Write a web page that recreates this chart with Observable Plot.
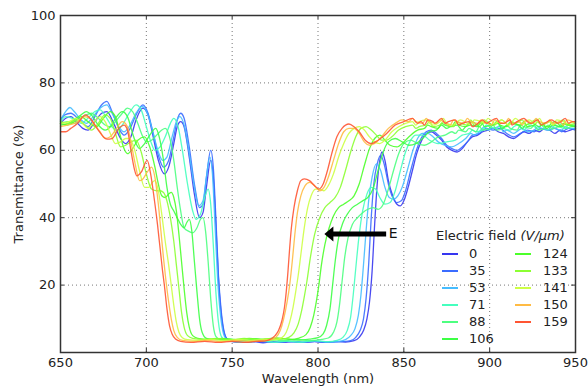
<!DOCTYPE html>
<html><head><meta charset="utf-8">
<script src="https://cdn.jsdelivr.net/npm/d3@7"></script>
<script src="https://cdn.jsdelivr.net/npm/@observablehq/plot@0.6"></script>
<style>
body{margin:0;background:#fff;font-family:"DejaVu Sans",sans-serif;}
#wrap{position:relative;width:588px;height:387px;overflow:hidden;}
.lg{position:absolute;font-family:"DejaVu Sans",sans-serif;font-size:13px;color:#222;line-height:16px;white-space:nowrap;}
.sw{position:absolute;height:2px;width:16px;}
</style></head><body><div id="wrap"></div>
<script>
// ---------- data ----------
const fields = [0, 35, 53, 71, 88, 106, 124, 133, 141, 150, 159];
const xTicks = [650, 700, 750, 800, 850, 900, 950];
const yTicks = [20, 40, 60, 80, 100];

const s0 = [[650,68],[653,69.5],[656,70],[660,68],[663,66.5],[666,66],[670,68.5],[674,71],[677,71.5],[681,68],[685,63.5],[688,62],[691,64],[694,69],[698,72.5],[701,70.5],[704,64],[707,57],[710.5,53],[713,55],[716,62],[718,67],[720,68.5],[722,67],[725,58],[728,47],[731,40],[733,41.5],[735,49],[737.5,57],[739,52],[740.5,38],[742,22],[743.5,12],[745,6.5],[747,4],[750,3.2],[756,3],[762,3.3],[768,2.9],[774,3.2],[780,3],[786,3.3],[792,3],[798,3.2],[804,3],[810,3.3],[816,3.1],[821,3.5],[824,4.5],[826.5,6.5],[828.5,10],[830,15],[831.5,24],[833,38],[834.5,50],[836,57],[837.3,59.5],[839,57],[841,51],[843.5,46.5],[846,44],[848,43.5],[850,45],[852.5,49],[855,54],[857.5,59],[860,62.5],[863,65],[866,65.5],[869,64.5],[872,63],[875,61],[878,60],[881,59.5],[884,60.5],[887,62.5],[890,64],[893,64.5],[896,65.5],[899,66],[902,66.5],[905,65.5],[908,65],[911,64],[914,63.5],[917,64.5],[920,65.5],[923,65],[926,66],[929,65.5],[932,66.5],[935,66],[938,65],[941,66],[944,65.5],[947,66],[950,66.5]];
const s35 = [[650,69],[652.5,70.5],[656,71],[660,69.5],[663,68],[666,67],[670,70],[674,73.5],[677,74.5],[680,71.5],[684,66.5],[687,64.5],[690,66],[694,70.5],[698,73.5],[701,71],[704,65],[707,58.5],[710,55],[713,57],[716,64],[718,69],[720,71],[722,69.5],[725,61],[728,50],[731,43],[733,44],[735,52],[737.5,60],[739,55],[740.5,40],[742,23],[743.5,13],[745,7],[747,4],[750,3.3],[758,3],[766,3.3],[774,3],[782,3.2],[790,3],[798,3.3],[806,3],[814,3.2],[819,3.5],[822,4.5],[824.5,6.5],[826.5,10],[828,16],[829.5,26],[831,40],[832.5,50],[834.5,56],[836.5,58.5],[838.5,56],[841,50],[843.5,46],[846,44.5],[848.5,45],[851,48],[854,54],[857,59.5],[860,63.5],[863,65.5],[866,66],[869,65],[872,63.5],[875,61.5],[878,60.5],[881,60],[884,61],[887,62.5],[890,64.5],[894,65],[898,66.5],[902,66],[906,66.5],[910,65],[914,64],[918,65],[922,66],[926,65.5],[930,66.5],[934,66],[938,66.5],[942,65.5],[946,66.5],[950,66]];
const s53 = [[650,69],[653,71.5],[655.5,72.7],[658,71.5],[662,69],[665,68],[669,70],[673,72.5],[677,73.5],[680,71],[684,67],[687,65.5],[690,67],[694,71],[697.5,73],[701,70.5],[704,65],[707,59.5],[709.5,57],[712,58],[715,64],[717.5,68.5],[719.5,70],[722,67.5],[725,59],[728,49],[730.5,43.5],[733,45],[735,52],[737,58],[738.5,53],[740,38],[741.5,22],[743,12],[744.5,6.5],[746.5,4],[750,3.3],[758,3.1],[766,3.4],[774,3],[782,3.3],[790,3.1],[798,3.4],[806,3.1],[812,3.3],[816,3.8],[819,5],[821.5,7],[823.5,11],[825,17],[826.5,26],[828,36],[829.5,45],[831.5,52],[834,56],[836.5,54],[839,49],[841.5,46],[844,45.5],[846.5,46.5],[849,49],[852,54],[855,59.5],[858,63.5],[861,65],[864,65],[867,64],[870,62.5],[874,61.5],[878,61],[882,62],[886,63.5],[889,65],[891,64.5],[894,65.5],[897,67],[899,66],[902,66.5],[906,67],[908,65.5],[910,66],[914,65],[917,66],[919,66.5],[922,65.5],[926,66],[928,67],[930,66.5],[934,66],[936,67],[938,66.5],[942,66],[944,67],[946,66.5],[950,66.5]];
const s71 = [[650,68.5],[653,70],[657,69.5],[662,68],[666,69.5],[670,71.5],[673,72],[677,69.5],[680,67],[683,66],[686,67.5],[690,71],[694,73.5],[697,72],[700,67],[703,62],[705,60],[708,61],[711,64],[714,68],[716,69.5],[718.5,67],[721,60],[724,50],[727,42],[729,39.5],[731.5,41],[734,46],[736,48.5],[737.5,44],[739,32],[740.5,18],[742,9],[743.5,5],[746,3.6],[750,3.3],[758,3.1],[766,3.5],[774,3.1],[782,3.4],[790,3.1],[798,3.5],[806,3.2],[811,3.6],[814.5,4.5],[817,6.5],[819,10.5],[820.5,17],[822,25],[824,35],[826,42],[828.5,47],[831,49],[833.5,48.5],[836,46],[839,44],[842,44.5],[845,48],[848,54],[851,59.5],[854,63],[857,64.5],[861,64.5],[865,63],[870,62],[875,62.5],[880,63],[884,64.5],[888,65],[890,66],[892,65.5],[896,66],[898,67.5],[900,67],[904,66.5],[906,67.5],[908,66.5],[912,66],[914,67],[916,67.5],[920,66],[922,67],[924,67.5],[928,66.5],[930,67.5],[932,66.5],[936,66],[938,67.5],[940,67],[944,66.5],[946,67.5],[950,67]];
const s88 = [[650,68],[654,68.5],[658,68],[662,69.5],[665,70.5],[668,71],[672,69.5],[676,67.5],[679,67],[682,68.5],[686,71],[689,72.5],[692,71.5],[695,68],[698,64],[700,62.5],[703,63],[706,64.5],[709,66],[711,66.5],[713.5,64],[716,57],[718,49],[720,42],[722,37],[724.5,36],[727,35.5],[729.5,37],[731.5,39.5],[733,40],[734.5,36],[736,27],[737.5,16],[739,8],[740.5,4.8],[743,3.8],[748,3.5],[756,3.8],[764,3.4],[772,3.8],[780,3.5],[788,3.9],[796,3.5],[802,3.9],[806,4.3],[809,6],[811,9],[812.5,14],[814,21],[815.5,28],[817.5,34],[820,38],[823,40],[826,41.5],[829,42.5],[832,43],[835,42.5],[838,44],[841,48.5],[844,54],[847,59],[850,62],[854,63],[858,62],[862,61.5],[866,62.5],[870,64],[874,64.5],[878,65.5],[880,65],[882,66],[886,65.5],[888,66.5],[892,65.5],[894,67],[896,66],[900,66.5],[902,67.5],[904,66],[908,66.5],[910,67.5],[912,66.5],[916,66],[918,67.5],[920,67],[924,66.5],[926,67.5],[928,66],[932,66.5],[934,67.5],[936,66.5],[940,67],[942,68],[944,66.5],[948,67],[950,67]];
const s106 = [[650,67.5],[655,68],[659,69.5],[662,70.5],[665,71.5],[668,70.5],[672,67.5],[676,66],[679,67],[682,69.5],[686,71.5],[689,70],[692,65],[694,62],[696,60.5],[699,62],[702,64.5],[705.5,66.5],[707.5,64],[710,57],[712,49],[714,44],[716,42],[718,40],[720,38],[722,37],[723.5,38.5],[725,39.5],[726.5,36],[728,27],[729.5,18],[731,10],[732.5,6],[735,4.2],[740,3.8],[748,4],[756,3.6],[764,4],[772,3.7],[780,4.1],[788,3.7],[795,4],[800,4.4],[803,5.5],[805,8],[807,13],[808.5,20],[810,27],[812,34],[814.5,38.5],[817,41],[820,43],[823,44],[826,45],[829,46],[832,48.5],[835,54],[838,59.5],[841,62.5],[845,63.5],[849,62.5],[853,61.5],[857,62],[861,63.5],[865,65.5],[869,66],[872,67.5],[875,66.5],[877,67],[881,67.5],[884,66],[886,67],[889,67.5],[893,67],[895,68.5],[897,67],[901,67.5],[905,68],[907,66.5],[909,67],[913,68],[917,67.5],[919,66.5],[921,67.5],[925,68],[929,67],[931,68],[933,66.5],[937,67.5],[941,67],[943,68],[945,67.5],[950,67.5]];
const s124 = [[650,68],[654,67.5],[658,68.5],[662,70],[666,68.5],[671,67],[675,69.5],[679,71.5],[682,70],[685,64],[687,60.5],[689,59],[692,60.5],[695,63],[699,64],[702,61],[705,55],[707,50],[709,46.5],[711,46],[713,47],[714.5,47.5],[716,46],[717.5,42],[719,35],[720.5,27],[722,19],[723.5,12],[725,7.5],[727,5],[730,4.2],[736,3.9],[744,4.2],[752,3.8],[760,4.2],[768,3.9],[776,4.3],[784,3.9],[789,4.3],[793,5.3],[795.5,7.5],[797.5,11],[799,15],[800.5,20],[802,26],[804,32],[806.5,37],[809,40.5],[812,43],[815,44],[818,45],[821,46.5],[824,50],[827,55.5],[830,60.5],[833,63.5],[836,64.5],[839,63],[842,61.5],[846,61],[850,62.5],[854,64.5],[858,66],[862,66.5],[864,67.5],[866,67],[870,66.5],[872,68],[874,67.5],[878,67],[880,68.5],[882,67.5],[886,67],[888,68],[890,68.5],[894,67],[896,68],[898,68.5],[902,67.5],[904,68.5],[906,67.5],[910,67],[912,68.5],[914,68],[918,67.5],[920,68.5],[922,67],[926,67.5],[928,68.5],[930,67.5],[934,67],[936,68],[938,68.5],[942,67],[944,68],[946,67.5],[950,67]];
const s133 = [[650,68.5],[654,68],[657,68.5],[660,69],[664,67.5],[668,66],[672,68],[676,70.5],[679,69.5],[682,65],[685,61],[688,61.5],[691,62.5],[694,63],[697,59.5],[700,53],[703,48.5],[706,48],[708,48],[710,47.5],[712,45],[714,40],[716,33],[717.5,26],[719,19],[720.5,12],[722,7.5],[724,5],[727,4.2],[733,3.9],[741,4.2],[749,3.8],[757,4.2],[765,3.9],[773,4.2],[779,4],[783,4.5],[786,5.8],[788.5,8.5],[790.5,12.5],[792,16.5],[793.5,21],[795.5,28],[798,35],[801,40],[804,43],[807,44.5],[810,46],[813,49],[816,54],[819,59.5],[822,64],[825,66.5],[828,67],[831,66],[834,64.5],[837,63],[840,63],[843,64],[847,66],[851,67],[855,67.5],[857,66.5],[859,67],[863,67.5],[865,68.5],[867,67],[871,67.5],[873,68.5],[875,67.5],[879,67],[881,68.5],[883,68],[887,67.5],[889,69],[891,67.5],[895,68],[897,69],[899,68],[903,67.5],[905,68.5],[907,69],[911,67.5],[913,68.5],[915,68],[919,69],[921,67.5],[923,68],[927,69],[929,68],[931,67.5],[935,68.5],[937,67.5],[939,68],[943,69],[945,67.5],[950,68]];
const s141 = [[650,68],[655,68.5],[659,69.5],[663,68],[666,66.5],[669,68],[673,70],[676,68.5],[679,65],[682,62],[685,62.5],[688,63.5],[690,63.5],[693,60.5],[696,54],[699,49],[701.5,49],[703.5,50.5],[705,51],[707,48],[709,41],[711,33],[713,26],[714.5,20],[716,14],[717.5,9],[719,6],[721,4.4],[724,3.8],[730,3.6],[738,3.9],[746,3.5],[754,3.9],[762,3.6],[770,3.9],[775,3.8],[779,4.4],[781.5,6],[783.5,9],[785.5,13.5],[787,18],[788.5,23],[790,29],[792,37],[794,43],[796,46.5],[798.5,48.5],[801,48.5],[803.5,48],[806,49.5],[809,53],[812,58],[815,62],[818,65],[821,66.5],[824,67],[827,66],[830,64],[833,62.5],[836,62],[839,63],[843,65.5],[847,67],[851,68],[855,68.5],[857,67.5],[859,68.5],[863,69],[865,68],[867,67.5],[871,68.5],[873,69.5],[875,68],[879,67.5],[881,68.5],[883,69],[887,68],[889,67.5],[891,69],[895,68.5],[897,68],[899,69.5],[903,68],[905,68.5],[907,69],[911,67.5],[913,68.5],[915,69.5],[919,68],[921,68.5],[923,69],[927,68],[929,69.5],[931,68],[935,68.5],[937,67.5],[939,69],[943,68.5],[945,68],[950,68.5]];
const s150 = [[650,67],[654,67.5],[658,68],[661,69],[664,70],[667,69.5],[670,67.5],[673,65.5],[676,63.5],[679,64],[682,66],[686,68.5],[689,67],[691,62.5],[693.5,56],[696,51],[698,51.5],[700.5,53.5],[703,55],[705,52],[707,44],[708.5,36],[710,28],[711.5,21],[713,15],[714.5,10],[716,6.5],[718,4.5],[721,3.6],[728,3.3],[736,3.6],[744,3.2],[752,3.6],[760,3.3],[768,3.6],[772,3.7],[775.5,4.5],[778,6.5],[780,10],[782,15],[783.5,20],[785,27],[786.5,35],[788,41.5],[790,46.5],[792.5,49.5],[795,50.5],[798,49.5],[801,48],[803.5,49],[806,52],[809,57],[812,62],[815,65.5],[818,66.5],[821,66.5],[824,65],[827,62.5],[830,61.5],[833,62],[837,64],[841,66.5],[845,68],[849,69],[853,68.5],[855,69.5],[857,68.5],[861,68],[863,69.5],[865,68.5],[869,68],[871,69],[873,68.5],[877,67.5],[879,69],[881,68.5],[885,68],[887,69.5],[889,68.5],[893,68],[895,69],[897,68.5],[901,67.5],[903,69],[905,68.5],[909,68],[911,69.5],[913,68],[917,68.5],[919,67.5],[921,69],[925,68],[927,69.5],[929,68.5],[933,68],[935,69],[937,68],[941,68.5],[943,67.5],[945,69],[950,68]];
const s159 = [[650,65.5],[653,65.5],[656,66.5],[660,68],[664.5,70.5],[668,69],[672,66],[675,64],[677,63.3],[680,63.5],[684,66.5],[687,67.5],[689,66],[691,60],[693,54.5],[694.5,52.4],[697,53.5],[700.5,57],[702.5,53],[704.5,46],[706.5,38],[708,31],[709.5,24],[710.5,20],[712,13],[713.5,8],[715,5.5],[717,4],[720,3.3],[726,3],[734,3.3],[742,3],[750,3.3],[758,3],[764,3.3],[769,3.4],[772.5,4],[775,5],[777,6.5],[779,9.5],[780.5,13.5],[781.5,18],[782.5,24],[783.5,31],[784.5,37],[786,43],[788,48],[790,51],[792,51.5],[795,51],[798,49.5],[800.5,48.5],[803,50],[805.5,54],[808,59],[811,64],[814,66.5],[818,67.8],[821,67],[824,65.5],[827.5,63],[831,62],[835,63],[840,65],[845,67.5],[850,68.5],[855,69.5],[858,68],[860,68.5],[862,67.5],[864,69],[867,68.5],[868,68],[872,69.5],[874,68],[876,68.5],[880,69],[882,67.5],[884,68],[888,68.5],[890,67],[892,67.5],[896,69],[898,68],[900,68.5],[904,69.5],[906,68],[908,68],[912,69],[913,67.5],[916,68.5],[920,69.5],[922,68.5],[924,68],[928,69],[930,67.5],[932,68],[936,69],[938,68.5],[940,68],[944,69.5],[946,68],[948,68.5],[950,68.5]];
const series = [s0, s35, s53, s71, s88, s106, s124, s133, s141, s150, s159];

// annotation (arrow "E"), in data units
const arrowFrom = [839.7, 35.2];
const arrowTo = [803.7, 35.2];
const arrowLabel = "E";

// ---------- styles ----------
const palette = ["#3636f0", "#3a6cff", "#45bcff", "#45ffbe", "#4dff80", "#3dff45", "#4cff2a", "#8cff33", "#cdff45", "#ffbb44", "#ff5533"];
const fontFam = "DejaVu Sans, sans-serif";

const data = fields.flatMap((f, i) => series[i].map(([x, y]) => ({field: f, x, y})));

const headSymbol = {draw(ctx) { ctx.moveTo(0, 0); ctx.lineTo(9, -7.5); ctx.lineTo(9, 7.5); ctx.closePath(); }};

const chart = Plot.plot({
  width: 588, height: 387,
  marginLeft: 60, marginRight: 13, marginTop: 15, marginBottom: 35,
  style: {fontFamily: fontFam, fontSize: "13px", color: "#222", background: "#fff", overflow: "visible"},
  x: {domain: [650, 950], ticks: xTicks, tickSize: 0, tickPadding: 5, label: null},
  y: {domain: [0, 100], ticks: yTicks, tickSize: 0, tickPadding: 5, label: null},
  color: {type: "ordinal", domain: fields, range: palette},
  marks: [
    Plot.ruleX(xTicks.slice(1, -1), {x: d => d, stroke: "#777", strokeDasharray: "1,3", strokeWidth: 1}),
    Plot.ruleY(yTicks.slice(0, -1), {y: d => d, stroke: "#777", strokeDasharray: "1,3", strokeWidth: 1}),
    Plot.line(data, {x: "x", y: "y", z: "field", stroke: "field", strokeWidth: 1.3, strokeOpacity: 0.9, curve: "monotone-x"}),
    Plot.ruleX(xTicks, {x: d => d, y1: 0, y2: 1.2, stroke: "#333"}),
    Plot.ruleX(xTicks, {x: d => d, y1: 98.8, y2: 100, stroke: "#333"}),
    Plot.ruleY(yTicks, {y: d => d, x1: 650, x2: 652.3, stroke: "#333"}),
    Plot.ruleY(yTicks, {y: d => d, x1: 947.7, x2: 950, stroke: "#333"}),
    Plot.frame({stroke: "#333", strokeWidth: 1.5}),
    Plot.link([0], {x1: () => arrowFrom[0], y1: () => arrowFrom[1], x2: () => arrowTo[0] + 3, y2: () => arrowTo[1], stroke: "#000", strokeWidth: 5}),
    Plot.dot([0], {x: () => arrowTo[0], y: () => arrowTo[1], symbol: headSymbol, fill: "#000", stroke: "none"}),
    Plot.text([arrowLabel], {x: () => arrowFrom[0] + 1.5, y: () => arrowFrom[1], text: d => d, textAnchor: "start", fontSize: 14, fill: "#111"}),
    Plot.text(["Wavelength (nm)"], {frameAnchor: "bottom", lineAnchor: "middle", dy: 26, text: d => d, fontSize: 13, fill: "#222"}),
    Plot.text(["Transmittance (%)"], {frameAnchor: "left", lineAnchor: "middle", textAnchor: "middle", rotate: -90, dx: -42, text: d => d, fontSize: 13, fill: "#222"})
  ]
});
const wrap = document.getElementById("wrap");
wrap.appendChild(chart);

// ---------- legend (HTML overlay) ----------
function add(html, cls, css) {
  const el = document.createElement("div");
  el.className = cls; el.innerHTML = html; Object.assign(el.style, css); wrap.appendChild(el); return el;
}
add('Electric field <span style="font-style:italic">(V/μm)</span>', "lg", {left: "436px", top: "228px"});
fields.forEach((f, i) => {
  const col = i < 6 ? 0 : 1, row = i < 6 ? i : i - 6;
  const cy = 253.5 + row * 17;
  const lx = col ? 515 : 442, tx = col ? 543 : 469;
  add("", "sw", {left: lx + "px", top: (cy - 1) + "px", background: palette[i]});
  add(String(f), "lg", {left: tx + "px", top: (cy - 8) + "px"});
});
</script>
</body></html>
